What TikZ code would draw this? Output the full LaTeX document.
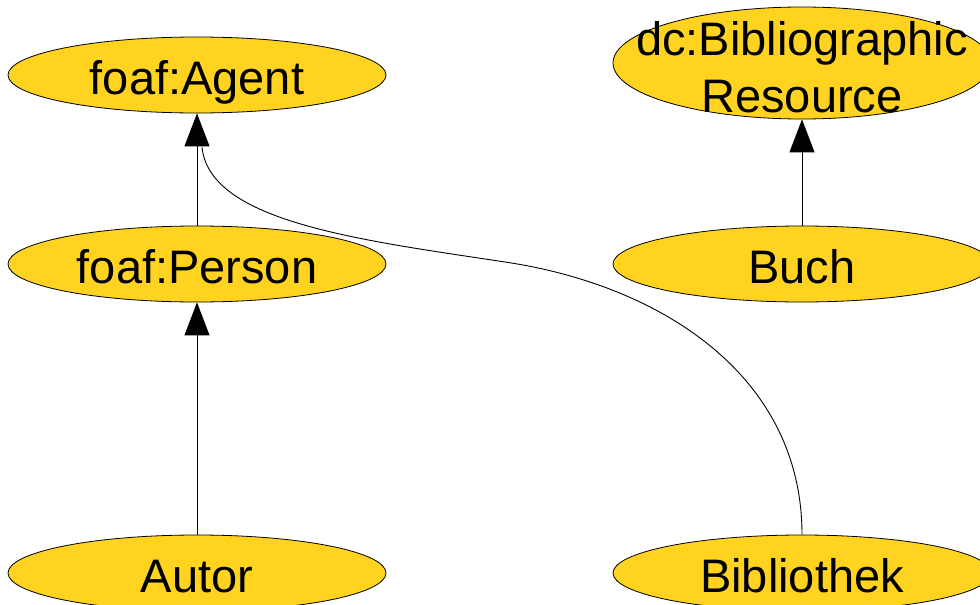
\documentclass[tikz,border=0pt]{standalone}
\usepackage{fontspec}
\setmainfont{Liberation Sans}
\usetikzlibrary{shapes.geometric,arrows.meta,calc}
\definecolor{gold}{HTML}{FFD320}
\tikzset{
  cls/.style={ellipse, draw=black, line width=0.8pt, fill=gold, inner sep=0pt,
    minimum width=378pt, minimum height=76pt, text height=38pt, text depth=0pt,
    font=\fontsize{47}{57}\selectfont},
  lbl/.style={anchor=base, inner sep=0pt, font=\fontsize{47}{57}\selectfont},
  sub/.style={line width=0.9pt, -{Triangle[length=33pt,width=25pt]}},
  subplain/.style={line width=0.9pt}
}
\begin{document}
\begin{tikzpicture}[x=1pt,y=-1pt]
\useasboundingbox (0,0) rectangle (980,605);
\node[cls] (agent) at (197,75) {foaf:Agent};
\node[cls] (person) at (197,264) {foaf:Person};
\node[cls] (autor) at (197,573) {Autor};
\node[cls, minimum height=112pt] (dc) at (802,63) {};
\node[lbl] (dct) at (802,55) {dc:Bibliographic};
\node[lbl] (dcr) at (802,112) {Resource};
\node[cls] (buch) at (802,264) {Buch};
\node[cls] (bib) at (802,573) {Bibliothek};
\draw[sub] (person.north) -- (agent.south);
\draw[sub] (autor.north) -- (person.south);
\draw[sub] (buch.north) -- (dc.south);
\coordinate (cj) at ($(agent.south)+(5,34)$);
\draw[subplain] (bib.north) .. controls (802,375) and (660,285) .. (505,262)
  .. controls (360,240) and (210,222) .. (cj);
\end{tikzpicture}
\end{document}
